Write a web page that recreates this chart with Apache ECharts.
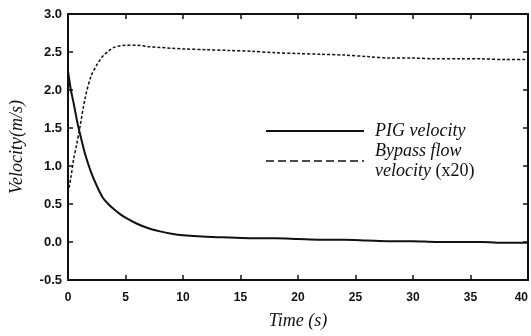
<!DOCTYPE html>
<html>
<head>
<meta charset="utf-8">
<script src="https://cdn.jsdelivr.net/npm/echarts@6/dist/echarts.min.js"></script>
<style>
  html, body { margin: 0; padding: 0; background: #fff; }
  #chart { width: 531px; height: 336px; }
</style>
</head>
<body>
<div id="chart"></div>
<script>
// 读图估计的数据
var time = [0, 0.25, 0.5, 0.75, 1, 1.5, 2, 2.5, 3, 3.5, 4, 4.5, 5, 6, 7, 8, 9, 10, 12, 14, 16, 18, 20, 22, 24, 26, 28, 30, 32, 34, 36, 38, 40];
var pigVelocity = [2.25, 2.0, 1.82, 1.62, 1.45, 1.15, 0.92, 0.74, 0.59, 0.5, 0.43, 0.37, 0.32, 0.24, 0.18, 0.14, 0.11, 0.09, 0.07, 0.06, 0.05, 0.05, 0.04, 0.03, 0.03, 0.02, 0.01, 0.01, 0.0, 0.0, 0.0, -0.01, -0.01];
var bypassVelocity = [0.65, 0.85, 1.1, 1.28, 1.48, 1.9, 2.18, 2.33, 2.44, 2.51, 2.56, 2.58, 2.59, 2.59, 2.57, 2.56, 2.55, 2.54, 2.53, 2.52, 2.51, 2.49, 2.48, 2.47, 2.46, 2.44, 2.42, 2.42, 2.41, 2.41, 2.41, 2.40, 2.40];
var xTicks = { min: 0, max: 40, interval: 5 };
var yTicks = { min: -0.5, max: 3.0, interval: 0.5 };

var myChart = echarts.init(document.getElementById("chart"));

function pairs(ys) {
  return time.map(function(t, i) {
    return [t, ys[i]];
  });
}

var serif = "Liberation Serif, Times New Roman, serif";
var sans = "Liberation Sans, Arial, sans-serif";
var frame = { show: true, onZero: false, lineStyle: { color: "#111", width: 2 } };
var tick = { show: true, inside: true, length: 5, lineStyle: { color: "#111", width: 1.5 } };

var option = {
  animation: false,
  grid: { left: 66, right: 1, top: 14, bottom: 56 },
  legend: {
    show: true,
    orient: "vertical",
    left: 260,
    top: 116,
    itemWidth: 98,
    itemHeight: 14,
    itemGap: 0,
    selectedMode: false,
    // 图例里不要圆点
    itemStyle: { opacity: 0 },
    textStyle: {
      fontFamily: serif,
      fontSize: 18,
      color: "#111",
      lineHeight: 20,
      rich: {
        i: { fontFamily: serif, fontSize: 18, fontStyle: "italic", lineHeight: 20, padding: [0, 0, 0, 6] },
        n: { fontFamily: serif, fontSize: 18, lineHeight: 20 }
      }
    },
    formatter: function(name) {
      if (name === "PIG velocity") return "{i|PIG velocity}";
      return "{i|Bypass flow}\n{i|velocity }{n|(x20)}";
    },
    data: [
      { name: "PIG velocity" },
      { name: "Bypass flow velocity (x20)", lineStyle: { type: [8, 4], width: 1.5 } }
    ]
  },
  xAxis: [
    {
      type: "value",
      min: xTicks.min,
      max: xTicks.max,
      interval: xTicks.interval,
      name: "Time (s)",
      nameLocation: "middle",
      nameGap: 32,
      nameTextStyle: { fontFamily: serif, fontStyle: "italic", fontSize: 18, color: "#111" },
      axisLine: frame,
      axisTick: tick,
      splitLine: { show: false },
      axisLabel: { margin: 12, fontFamily: sans, fontSize: 12, fontWeight: "bold", color: "#111", alignMaxLabel: "right" }
    },
    {
      type: "value",
      position: "top",
      min: xTicks.min,
      max: xTicks.max,
      interval: xTicks.interval,
      axisLine: frame,
      axisTick: tick,
      axisLabel: { show: false },
      splitLine: { show: false }
    }
  ],
  yAxis: [
    {
      type: "value",
      min: yTicks.min,
      max: yTicks.max,
      interval: yTicks.interval,
      name: "Velocity(m/s)",
      nameLocation: "middle",
      nameGap: 42,
      nameTextStyle: { fontFamily: serif, fontStyle: "italic", fontSize: 18, color: "#111" },
      axisLine: frame,
      axisTick: tick,
      splitLine: { show: false },
      axisLabel: {
        margin: 6,
        fontFamily: sans,
        fontSize: 13,
        fontWeight: "bold",
        color: "#111",
        formatter: function(v) {
          return v.toFixed(1);
        }
      }
    },
    {
      type: "value",
      position: "right",
      min: yTicks.min,
      max: yTicks.max,
      interval: yTicks.interval,
      axisLine: frame,
      axisTick: tick,
      axisLabel: { show: false },
      splitLine: { show: false }
    }
  ],
  series: [
    {
      name: "PIG velocity",
      type: "line",
      smooth: 0.3,
      symbol: "none",
      lineStyle: { color: "#111", width: 2, type: "solid" },
      itemStyle: { color: "#111" },
      data: pairs(pigVelocity)
    },
    {
      name: "Bypass flow velocity (x20)",
      type: "line",
      smooth: 0.3,
      symbol: "none",
      lineStyle: { color: "#111", width: 1.5, type: [3, 2] },
      itemStyle: { color: "#111" },
      data: pairs(bypassVelocity)
    }
  ]
};

myChart.setOption(option);
</script>
</body>
</html>
